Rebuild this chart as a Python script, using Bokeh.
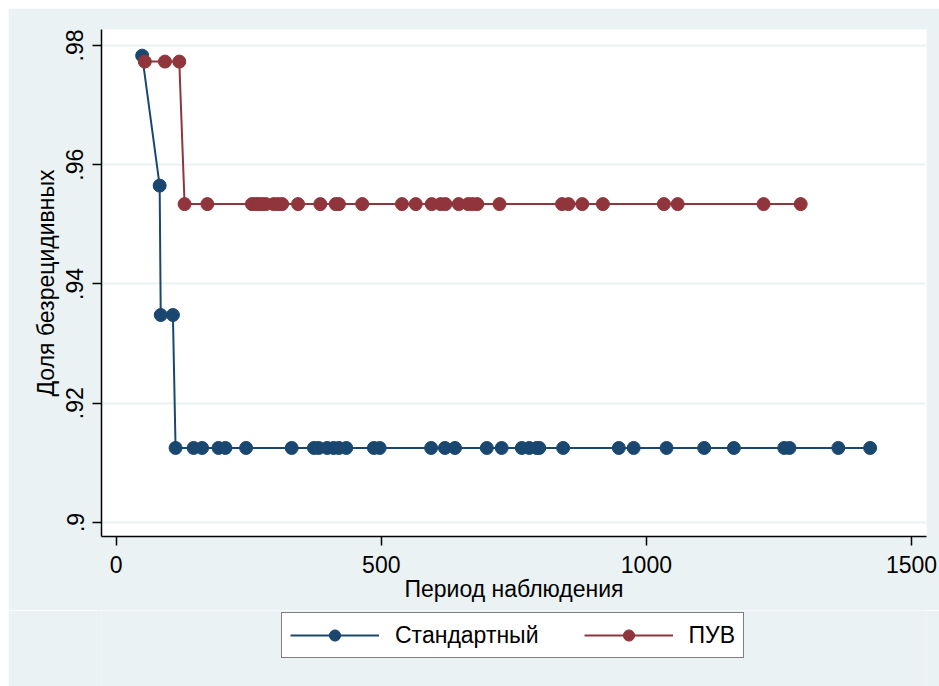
from bokeh.plotting import figure
from bokeh.layouts import column
from bokeh.models import Range1d, FixedTicker, Legend, LegendItem
from bokeh.embed import file_html
from bokeh.resources import INLINE

# Data
series_names = ["Стандартный", "ПУВ"]

std_x = [49, 82, 84, 107, 112, 146, 162, 193, 206, 245, 331, 373, 382, 398, 410,
         420, 434, 486, 497, 594, 620, 639, 699, 727, 765, 779, 793, 798, 843,
         948, 976, 1038, 1109, 1165, 1260, 1270, 1362, 1422]
std_y = [0.9783, 0.9565, 0.9348, 0.9348] + [0.9125] * 34

puv_x = [54, 92, 119, 129, 172, 256, 263, 268, 275, 282, 297, 305, 313, 343, 385,
         414, 420, 464, 539, 565, 595, 612, 621, 646, 664, 672, 681, 723, 841,
         853, 879, 918, 1033, 1059, 1221, 1291]
puv_y = [0.9773, 0.9773, 0.9773] + [0.9534] * 33

x_ticks = [0, 500, 1000, 1500]
y_ticks = [0.90, 0.92, 0.94, 0.96, 0.98]
y_tick_labels = [".9", ".92", ".94", ".96", ".98"]

x_title = "Период наблюдения"
y_title = "Доля безрецидивных"

NAVY = "#1a476f"
MAROON = "#90353b"
BG = "#eaf2f3"
FONT = "Liberation Sans"
FS = "23px"

p = figure(width=931, height=602, output_backend="svg", toolbar_location=None,
           x_range=Range1d(-27.7, 1528.3), y_range=Range1d(0.897652, 0.982683),
           min_border_left=93, min_border_right=13, min_border_top=21,
           min_border_bottom=74)

p.border_fill_color = BG
p.background_fill_color = "white"
p.outline_line_color = None

# grid
p.xgrid.visible = False
p.ygrid.grid_line_color = BG
p.ygrid.grid_line_width = 2
p.ygrid.ticker = FixedTicker(ticks=y_ticks)

# axes
for ax in (p.xaxis[0], p.yaxis[0]):
    ax.axis_line_color = "#000000"
    ax.axis_line_width = 1.5
    ax.major_tick_line_color = "#000000"
    ax.major_tick_line_width = 1.5
    ax.major_tick_out = 9
    ax.major_tick_in = 0
    ax.minor_tick_line_color = None
    ax.major_label_text_font = FONT
    ax.major_label_text_font_size = FS
    ax.major_label_text_color = "#000000"
    ax.axis_label_text_font = FONT
    ax.axis_label_text_font_size = FS
    ax.axis_label_text_font_style = "normal"
    ax.axis_label_text_color = "#000000"

p.xaxis.ticker = FixedTicker(ticks=x_ticks)
p.xaxis.axis_label = x_title
p.xaxis.major_label_standoff = 10
p.xaxis.axis_label_standoff = 0

p.yaxis.ticker = FixedTicker(ticks=y_ticks)
p.yaxis.major_label_overrides = {t: l for t, l in zip(y_ticks, y_tick_labels)}
p.yaxis.major_label_orientation = "vertical"
p.yaxis.axis_label = y_title
p.yaxis.major_label_standoff = 9
p.yaxis.axis_label_standoff = 5

# series
p.line(std_x, std_y, line_color=NAVY, line_width=2)
p.scatter(std_x, std_y, size=13, fill_color=NAVY, line_color=NAVY)
p.line(puv_x, puv_y, line_color=MAROON, line_width=2)
p.scatter(puv_x, puv_y, size=13, fill_color=MAROON, line_color=MAROON)

# legend strip below the plot (same styles, data kept out of view)
q = figure(width=931, height=76, output_backend="svg", toolbar_location=None,
           x_range=Range1d(0, 1), y_range=Range1d(0, 1),
           x_axis_location=None, y_axis_location=None, min_border=0)
q.border_fill_color = BG
q.background_fill_color = BG
q.outline_line_color = None
q.xgrid.visible = False
q.ygrid.visible = False

ql1 = q.line(std_x, std_y, line_color=NAVY, line_width=2)
qs1 = q.scatter(std_x, std_y, size=13, fill_color=NAVY, line_color=NAVY)
ql2 = q.line(puv_x, puv_y, line_color=MAROON, line_width=2)
qs2 = q.scatter(puv_x, puv_y, size=13, fill_color=MAROON, line_color=MAROON)

legend = Legend(items=[LegendItem(label=series_names[0], renderers=[ql1, qs1]),
                       LegendItem(label=series_names[1], renderers=[ql2, qs2])],
                orientation="horizontal", location=(180, 28))
legend.label_text_font = FONT
legend.label_text_font_size = FS
legend.label_text_color = "#000000"
legend.glyph_width = 89
legend.glyph_height = 28
legend.label_standoff = 16
legend.spacing = 45
legend.padding = 8
legend.margin = 0
legend.border_line_color = "#000000"
legend.border_line_width = 1.2
legend.background_fill_color = "white"
legend.background_fill_alpha = 1.0
q.add_layout(legend, "center")

layout = column(p, q, spacing=0, margin=(8, 0, 0, 8))

open("out.html", "w").write(file_html(layout, INLINE))
